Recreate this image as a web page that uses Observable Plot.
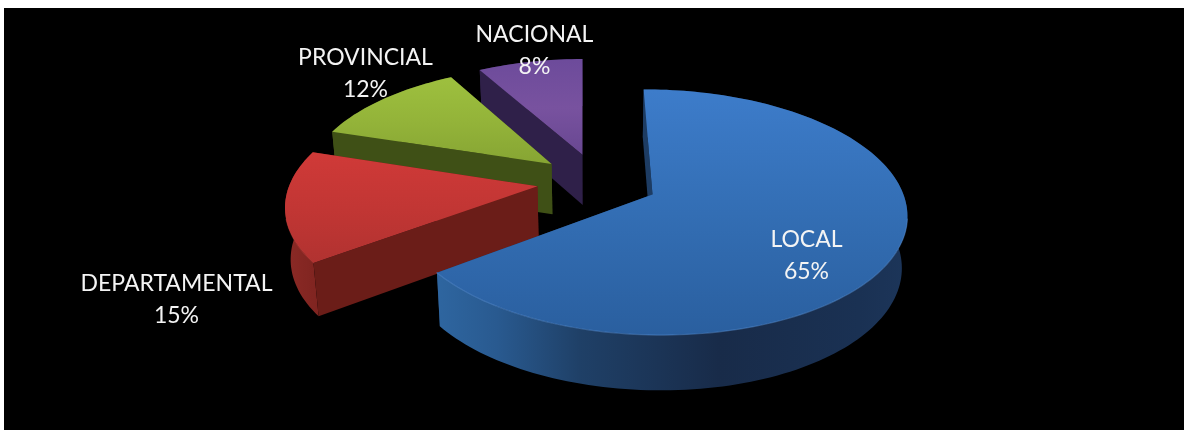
<!DOCTYPE html>
<html><head><meta charset="utf-8">
<script src="https://cdn.jsdelivr.net/npm/d3@7"></script>
<script src="https://cdn.jsdelivr.net/npm/@observablehq/plot@0.6"></script>
<style>html,body{margin:0;background:#fff}svg{display:block}</style>
</head><body><div id="chart"></div>
<script>
const categories = ["LOCAL", "DEPARTAMENTAL", "PROVINCIAL", "NACIONAL"];
const shares = [65, 15, 12, 8];
const labelX = [806, 176, 365, 534];
const labelY = [252, 296, 70, 47];

const W = 1184, H = 430;
const view = {x0: 597, y0: 181, a: 247, b: 116.5, k: 1 / 7, explode: 0.245, startDeg: -0.5, depth: 51};
const rad = Math.PI / 180;
const faces = [
  {top: "gTopB", wall: "gWallB", side: "#1d3c63", rimLight: "#5c93d6"},
  {top: "gTopR", wall: "gWallR", side: "#6b1d18", rimLight: "#c0403c"},
  {top: "gTopG", wall: "gWallG", side: "#3f5016", rimLight: "#7f9a30"},
  {top: "gTopP", wall: "gWallP", side: "#2f2049", rimLight: "#5a4080"}
];

const project = ([u, v]) => ({x: view.x0 + view.a * u / (1 - view.k * v), y: view.y0 + view.b * v / (1 - view.k * v)});
const drop = ([u, v]) => {
  const p = project([u, v]);
  return {x: view.x0 + (p.x - view.x0) * 0.982, y: p.y + view.depth / (1 - 0.07 * v)};
};
const total = d3.sum(shares);
let acc = view.startDeg;
const slices = shares.map((s, i) => {
  const t0 = acc, t1 = acc + s / total * 360; acc = t1;
  const mid = (t0 + t1) / 2 * rad;
  const apex = [view.explode * Math.sin(mid), -view.explode * Math.cos(mid)];
  const n = Math.ceil((t1 - t0) / 1.5);
  const rim = d3.range(n + 1).map(j => {
    const t = (t0 + (t1 - t0) * j / n) * rad;
    return [apex[0] + Math.sin(t), apex[1] - Math.cos(t)];
  });
  return {i, apex, rim, ...faces[i]};
});

function gradient(id, x1, y1, x2, y2, stops) {
  return `<linearGradient id="${id}" gradientUnits="userSpaceOnUse" x1="${x1}" y1="${y1}" x2="${x2}" y2="${y2}">` +
    stops.map(([o, c]) => `<stop offset="${o}" stop-color="${c}"/>`).join("") + `</linearGradient>`;
}
const defsMark = () => {
  const g = document.createElementNS("http://www.w3.org/2000/svg", "defs");
  g.innerHTML =
    gradient("gTopB", 0, 90, 0, 335, [[0, "#3d7cca"], [0.5, "#336eb4"], [1, "#2a5f9f"]]) +
    gradient("gWallB", 440, 0, 905, 0, [[0, "#2e659f"], [0.12, "#295a90"], [0.3, "#1f4067"], [0.6, "#182b49"], [0.9, "#1a3153"], [1, "#1c3559"]]) +
    gradient("gTopR", 0, 150, 0, 265, [[0, "#d03a38"], [0.5, "#c23634"], [1, "#b03230"]]) +
    gradient("gWallR", 283, 0, 540, 0, [[0, "#8c2a26"], [0.14, "#7f2420"], [0.2, "#6f1e19"], [1, "#641b17"]]) +
    gradient("gTopG", 0, 80, 0, 165, [[0, "#9dbf3e"], [0.5, "#93b339"], [1, "#86a433"]]) +
    gradient("gWallG", 330, 0, 550, 0, [[0, "#455818"], [1, "#3d4d15"]]) +
    gradient("gTopP", 0, 60, 0, 155, [[0, "#6d4b9b"], [0.5, "#78529f"], [1, "#684791"]]) +
    gradient("gWallP", 0, 70, 0, 205, [[0, "#352452"], [1, "#2b1d42"]]);
  return g;
};

const poly = (pts, fill) => Plot.line(pts, {x: "x", y: "y", fill, stroke: "none"});
const marks = [
  defsMark,
  Plot.rect([0], {x1: () => 4, x2: () => W, y1: () => 8, y2: () => H, fill: "#000"})
];
// back to front: NACIONAL, PROVINCIAL, DEPARTAMENTAL, LOCAL
for (const s of [3, 2, 1, 0].map(i => slices[i])) {
  const first = s.rim[0], last = s.rim[s.rim.length - 1];
  marks.push(poly([project(s.apex), project(last), drop(last), drop(s.apex)], s.side));
  marks.push(poly([...s.rim.map(project), ...s.rim.slice().reverse().map(drop)], `url(#${s.wall})`));
  marks.push(poly([project(s.apex), project(first), drop(first), drop(s.apex)], s.side));
  marks.push(poly([project(s.apex), ...s.rim.map(project)], `url(#${s.top})`));
  marks.push(Plot.line(s.rim.filter(([u, v]) => v > 0.3).map(project), {x: "x", y: "y", stroke: s.rimLight, strokeWidth: 1.2, strokeOpacity: 0.45}));
}
marks.push(Plot.text(categories.map((c, i) => ({text: `${c}\n${shares[i]}%`, x: labelX[i], y: labelY[i]})), {
  x: "x", y: "y", text: "text", fill: "#f4f4f4", fontSize: 23, lineHeight: 1.4, textAnchor: "middle", frameAnchor: "middle",
  fontFamily: "Lato, 'Open Sans', sans-serif"
}));

const chart = Plot.plot({
  width: W, height: H, margin: 0,
  x: {domain: [0, W], range: [0, W], axis: null},
  y: {domain: [0, H], range: [0, H], axis: null},
  style: {background: "#fff", filter: "blur(0.5px)"},
  marks
});
document.getElementById("chart").append(chart);
</script></body></html>
